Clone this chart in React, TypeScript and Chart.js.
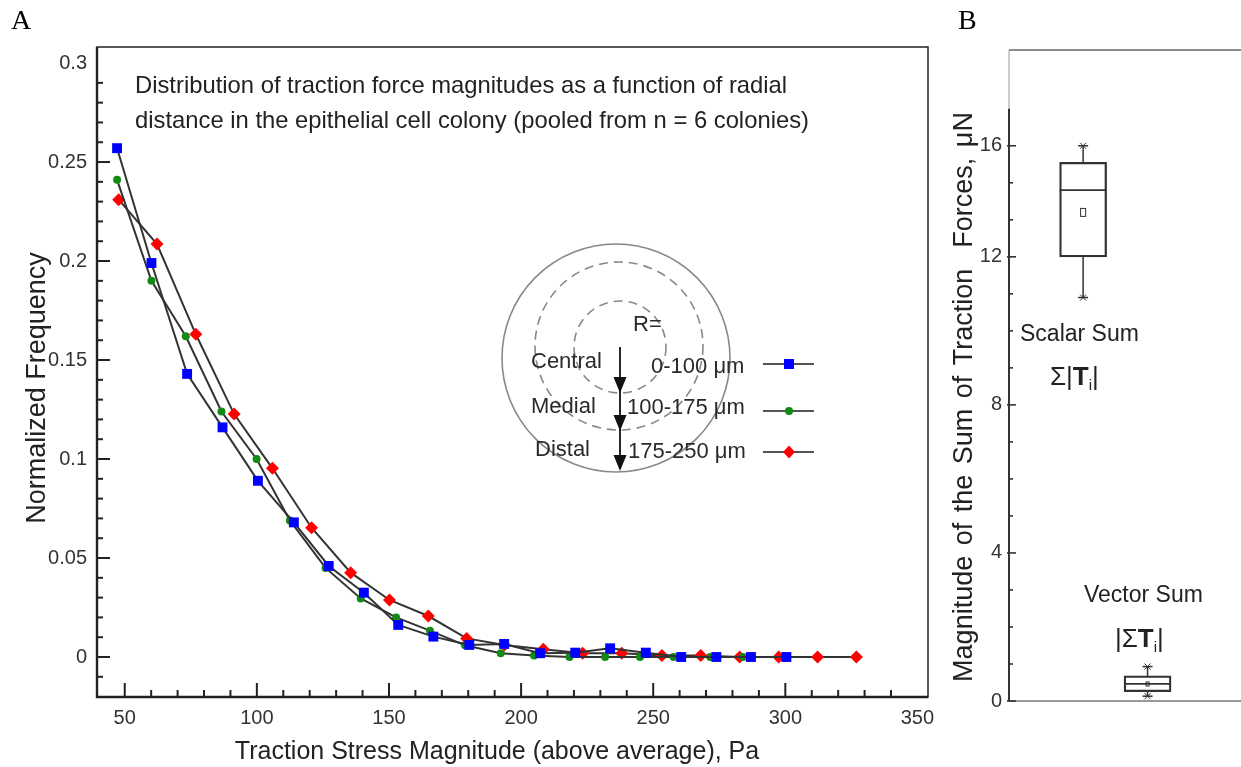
import React, { useEffect, useRef } from 'react';
import { Chart, LinearScale, registerables } from 'chart.js';

Chart.register(...registerables);

// ---------- Panel A data ----------
const centralX = [47.1, 60.1, 73.6, 87, 100.4, 114, 127.2, 140.5, 153.5, 166.8, 180.4, 193.6, 207.2, 220.5, 233.7, 247.2, 260.6, 273.9, 287, 300.4];
const centralY = [0.257, 0.199, 0.143, 0.116, 0.089, 0.068, 0.046, 0.0325, 0.0162, 0.0103, 0.0061, 0.0066, 0.0019, 0.0022, 0.0044, 0.0022, 0, 0, 0, 0];
const medialX = [47.1, 60.1, 73.1, 86.6, 99.9, 112.5, 126, 139.3, 152.7, 165.5, 178.8, 192.3, 204.9, 218.3, 231.8, 245, 257.7, 271.6, 284];
const medialY = [0.241, 0.190, 0.162, 0.124, 0.100, 0.069, 0.045, 0.0296, 0.020, 0.0133, 0.0059, 0.0019, 0.0007, 0, 0, 0, 0, 0, 0];
const distalX = [47.7, 62.2, 76.9, 91.4, 105.9, 120.7, 135.5, 150.2, 164.9, 179.4, 193.7, 208.4, 223.3, 238.1, 253.3, 268, 282.7, 297.5, 312.2, 326.9];
const distalY = [0.231, 0.2086, 0.163, 0.1227, 0.0953, 0.0653, 0.0426, 0.0288, 0.0207, 0.0094, 0.0061, 0.0039, 0.0019, 0.0019, 0.0007, 0.0007, 0, 0, 0, 0];

const zoneNames = ['Central', 'Medial', 'Distal'];
const rangeNames = ['0-100 μm', '100-175 μm', '175-250 μm'];
const seriesColors = ['#0000ff', '#138a13', '#ff0000'];
const seriesStyles = ['rect', 'circle', 'rectRot'];

const xTicksA = [50, 100, 150, 200, 250, 300, 350];
const xTickLabelsA = ['50', '100', '150', '200', '250', '300', '350'];
const yTicksA = [0, 0.05, 0.1, 0.15, 0.2, 0.25, 0.3];
const yTickLabelsA = ['0', '0.05', '0.1', '0.15', '0.2', '0.25', '0.3'];
const noteLines = [
  'Distribution of traction force magnitudes as a function of radial',
  'distance in the epithelial cell colony (pooled from n = 6 colonies)',
];
const xTitleA = 'Traction Stress Magnitude (above average), Pa';
const yTitleA = 'Normalized Frequency';

// ---------- Panel B data ----------
const boxNames = ['Scalar Sum', 'Vector Sum'];
const boxMin = [10.9, 0.13];
const boxQ1 = [12.0, 0.25];
const boxMedian = [14.4, 0.46];
const boxQ3 = [15.4, 0.68];
const boxMax = [16.0, 0.93];
const boxMean = [13.6, 0.46];
const yTicksB = [0, 1, 2, 3, 4, 5, 6, 7, 8, 9, 10, 11, 12, 13.333, 14.667, 16, 17.333];
const yTickLabelsB = ['0', '', '', '', '4', '', '', '', '8', '', '', '', '12', '', '', '16', ''];
const yTitleB = 'Magnitude of the Sum of Traction  Forces, μN';

// The reference y axis of panel B is compressed above 12
const BREAK_VALUE = 12;
const UPPER_RATIO = 0.75;
const toVirtual = (v: number) => (v <= BREAK_VALUE ? v : BREAK_VALUE + (v - BREAK_VALUE) * UPPER_RATIO);
const fromVirtual = (v: number) => (v <= BREAK_VALUE ? v : BREAK_VALUE + (v - BREAK_VALUE) / UPPER_RATIO);

class SegmentedScale extends LinearScale {
  static id = 'segmented';
  static defaults = LinearScale.defaults;
  getPixelForValue(value: number) {
    return super.getPixelForValue(toVirtual(value));
  }
  getValueForPixel(pixel: number) {
    return fromVirtual(super.getValueForPixel(pixel) as number);
  }
}
Chart.register(SegmentedScale);

const SANS = '"Liberation Sans", Arial, sans-serif';
const SERIF = '"Liberation Serif", "Times New Roman", serif';

function drawMarker(ctx: CanvasRenderingContext2D, style: string, x: number, y: number, color: string) {
  ctx.save();
  ctx.fillStyle = color;
  ctx.beginPath();
  if (style === 'rect') {
    ctx.rect(x - 5, y - 5, 10, 10);
  } else if (style === 'circle') {
    ctx.arc(x, y, 4, 0, Math.PI * 2);
  } else {
    ctx.moveTo(x, y - 6.5);
    ctx.lineTo(x + 6, y);
    ctx.lineTo(x, y + 6.5);
    ctx.lineTo(x - 6, y);
    ctx.closePath();
  }
  ctx.fill();
  ctx.restore();
}

function line(ctx: CanvasRenderingContext2D, x1: number, y1: number, x2: number, y2: number) {
  ctx.beginPath();
  ctx.moveTo(x1, y1);
  ctx.lineTo(x2, y2);
  ctx.stroke();
}

const panelAPlugin = {
  id: 'panelA',
  afterDraw(chart: any) {
    const { ctx, chartArea: a } = chart;
    const x = chart.scales.x;
    const y = chart.scales.y;
    ctx.save();
    // frame
    ctx.strokeStyle = '#222';
    ctx.lineWidth = 1.5;
    ctx.strokeRect(a.left, a.top, a.right - a.left, a.bottom - a.top);
    ctx.lineWidth = 2.4;
    ctx.beginPath();
    ctx.moveTo(a.left, a.top);
    ctx.lineTo(a.left, a.bottom);
    ctx.lineTo(a.right, a.bottom);
    ctx.stroke();
    // inward ticks
    ctx.lineWidth = 2;
    for (let v = 50; v <= 340; v += 10) {
      const px = x.getPixelForValue(v);
      line(ctx, px, a.bottom, px, a.bottom - (v % 50 === 0 ? 14 : 7));
    }
    for (let i = -1; i <= 29; i++) {
      const py = y.getPixelForValue(i / 100);
      line(ctx, a.left, py, a.left + (i % 5 === 0 ? 13 : 6), py);
    }
    // note text
    ctx.fillStyle = '#222';
    ctx.textBaseline = 'middle';
    ctx.textAlign = 'left';
    ctx.font = `23.8px ${SANS}`;
    ctx.fillText(noteLines[0], 135, 86);
    ctx.fillText(noteLines[1], 135, 121);

    // legend diagram: concentric zones
    ctx.strokeStyle = '#888';
    ctx.lineWidth = 1.6;
    ctx.beginPath();
    ctx.arc(616, 358, 114, 0, Math.PI * 2);
    ctx.stroke();
    ctx.setLineDash([9, 6]);
    ctx.beginPath();
    ctx.arc(619, 346, 84, 0, Math.PI * 2);
    ctx.stroke();
    ctx.beginPath();
    ctx.arc(620, 347, 46, 0, Math.PI * 2);
    ctx.stroke();
    ctx.setLineDash([]);
    // arrows
    ctx.strokeStyle = '#111';
    ctx.fillStyle = '#111';
    ctx.lineWidth = 1.8;
    line(ctx, 620, 347, 620, 468);
    [393, 431, 471].forEach((tip) => {
      ctx.beginPath();
      ctx.moveTo(613.5, tip - 16);
      ctx.lineTo(626.5, tip - 16);
      ctx.lineTo(620, tip);
      ctx.closePath();
      ctx.fill();
    });
    // legend texts
    ctx.fillStyle = '#2a2a2a';
    ctx.font = `22px ${SANS}`;
    ctx.fillText('R=', 633, 325);
    const zoneX = [531, 531, 535];
    const zoneY = [362, 407, 450];
    const rangeX = [651, 627, 628];
    const rangeY = [367, 408, 452];
    const sampleY = [364, 411, 452];
    for (let i = 0; i < 3; i++) {
      ctx.fillText(zoneNames[i], zoneX[i], zoneY[i]);
      ctx.fillText(rangeNames[i], rangeX[i], rangeY[i]);
      ctx.strokeStyle = '#555';
      ctx.lineWidth = 2;
      line(ctx, 763, sampleY[i], 814, sampleY[i]);
      drawMarker(ctx, seriesStyles[i], 789, sampleY[i], seriesColors[i]);
    }
    // axis titles
    ctx.fillStyle = '#222';
    ctx.font = `25px ${SANS}`;
    ctx.textAlign = 'center';
    ctx.fillText(xTitleA, 497, 752);
    ctx.save();
    ctx.translate(38, 388);
    ctx.rotate(-Math.PI / 2);
    ctx.font = `27px ${SANS}`;
    ctx.fillText(yTitleA, 0, 0);
    ctx.restore();
    // panel label
    ctx.fillStyle = '#000';
    ctx.textAlign = 'left';
    ctx.font = `28px ${SERIF}`;
    ctx.fillText('A', 11, 22);
    ctx.restore();
  },
};

function drawRich(ctx: CanvasRenderingContext2D, parts: { t: string; font: string; dy: number }[], x: number, y: number) {
  let cx = x;
  for (const p of parts) {
    ctx.font = p.font;
    ctx.fillText(p.t, cx, y + p.dy);
    cx += ctx.measureText(p.t).width;
  }
}

const panelBPlugin = {
  id: 'panelB',
  afterDraw(chart: any) {
    const { ctx, chartArea: a } = chart;
    const x = chart.scales.x;
    const y = chart.scales.y;
    const W = chart.width;
    ctx.save();
    // frame
    ctx.strokeStyle = '#666';
    ctx.lineWidth = 1.6;
    line(ctx, a.left, a.top, W, a.top);
    ctx.strokeStyle = '#999';
    ctx.lineWidth = 2;
    line(ctx, a.left, a.bottom, W, a.bottom);
    ctx.strokeStyle = '#999';
    ctx.lineWidth = 1;
    const axisTop = y.getPixelForValue(yTicksB[yTicksB.length - 1]);
    line(ctx, a.left, a.top, a.left, axisTop);
    ctx.strokeStyle = '#333';
    ctx.lineWidth = 2;
    line(ctx, a.left, axisTop, a.left, a.bottom);
    // ticks
    ctx.lineWidth = 1.6;
    yTicksB.forEach((v, i) => {
      if (i === yTicksB.length - 1) return;
      const py = y.getPixelForValue(v);
      if (yTickLabelsB[i]) line(ctx, a.left - 2, py, a.left + 7, py);
      else line(ctx, a.left, py, a.left + 4, py);
    });
    // box whiskers, medians, means
    ctx.strokeStyle = '#333';
    for (let i = 0; i < boxNames.length; i++) {
      const cx = x.getPixelForValue(i + 1);
      const half = 23.5;
      ctx.lineWidth = 1.5;
      line(ctx, cx, y.getPixelForValue(boxQ3[i]), cx, y.getPixelForValue(boxMax[i]));
      line(ctx, cx, y.getPixelForValue(boxQ1[i]), cx, y.getPixelForValue(boxMin[i]));
      [boxMax[i], boxMin[i]].forEach((v) => {
        const py = y.getPixelForValue(v);
        line(ctx, cx - 5, py, cx + 5, py);
        ctx.lineWidth = 1;
        line(ctx, cx - 3, py - 3, cx + 3, py + 3);
        line(ctx, cx - 3, py + 3, cx + 3, py - 3);
        ctx.lineWidth = 1.5;
      });
      ctx.lineWidth = 1.8;
      const pm = y.getPixelForValue(boxMedian[i]);
      line(ctx, cx - half, pm, cx + half, pm);
      ctx.lineWidth = 1;
      const pmean = y.getPixelForValue(boxMean[i]);
      if (i === 0) ctx.strokeRect(cx - 2.5, pmean - 4, 5, 8);
      else ctx.strokeRect(cx - 1.5, pmean - 2, 3, 4);
    }
    // labels
    ctx.fillStyle = '#222';
    ctx.textBaseline = 'middle';
    ctx.textAlign = 'left';
    ctx.font = `23px ${SANS}`;
    ctx.fillText(boxNames[0], 85, 335);
    ctx.fillText(boxNames[1], 149, 596);
    const normal = `26px ${SANS}`;
    const bold = `bold 26px ${SANS}`;
    const sub = `15px ${SANS}`;
    drawRich(ctx, [
      { t: 'Σ|', font: normal, dy: 0 },
      { t: 'T', font: bold, dy: 0 },
      { t: 'i', font: sub, dy: 8 },
      { t: '|', font: normal, dy: 0 },
    ], 115, 378);
    drawRich(ctx, [
      { t: '|Σ', font: normal, dy: 0 },
      { t: 'T', font: bold, dy: 0 },
      { t: 'i', font: sub, dy: 8 },
      { t: '|', font: normal, dy: 0 },
    ], 180, 640);
    // axis title
    ctx.save();
    ctx.translate(30, 397);
    ctx.rotate(-Math.PI / 2);
    ctx.textAlign = 'center';
    ctx.font = `27px ${SANS}`;
    (ctx as any).wordSpacing = '3px';
    ctx.fillText(yTitleB, 0, 0);
    ctx.restore();
    // panel label
    ctx.fillStyle = '#000';
    ctx.font = `28px ${SERIF}`;
    ctx.fillText('B', 23, 22);
    ctx.restore();
  },
};

export default function App() {
  const refA = useRef<HTMLCanvasElement>(null);
  const refB = useRef<HTMLCanvasElement>(null);

  useEffect(() => {
    const mk = (xs: number[], ys: number[], i: number) => ({
      label: `${zoneNames[i]} ${rangeNames[i]}`,
      data: xs.map((v, k) => ({ x: v, y: ys[k] })),
      borderColor: '#333',
      borderWidth: 2,
      pointStyle: seriesStyles[i],
      pointRadius: i === 0 ? 7 : i === 1 ? 4 : 6.5,
      pointBackgroundColor: seriesColors[i],
      pointBorderColor: seriesColors[i],
      pointBorderWidth: 0,
      tension: 0,
      fill: false,
    });
    const chartA = new Chart(refA.current as HTMLCanvasElement, {
      type: 'line',
      data: {
        datasets: [mk(centralX, centralY, 0), mk(medialX, medialY, 1), mk(distalX, distalY, 2)],
      },
      options: {
        animation: false,
        responsive: false,
        layout: { padding: { left: 0, right: 32, top: 47, bottom: 0 } },
        plugins: { legend: { display: false }, tooltip: { enabled: false } },
        scales: {
          x: {
            type: 'linear',
            min: 39.5,
            max: 354,
            afterFit: (s: any) => { s.height = 70; },
            afterBuildTicks: (s: any) => { s.ticks = xTicksA.map((v) => ({ value: v })); },
            grid: { display: false, drawTicks: false },
            border: { display: false },
            ticks: {
              padding: 9,
              color: '#333',
              font: { family: SANS, size: 20 },
              maxRotation: 0,
              autoSkip: false,
              callback: (_v: any, i: number) => xTickLabelsA[i],
            },
          },
          y: {
            type: 'linear',
            min: -0.0202,
            max: 0.3081,
            afterFit: (s: any) => { s.width = 97; },
            afterBuildTicks: (s: any) => { s.ticks = yTicksA.map((v) => ({ value: v })); },
            grid: { display: false, drawTicks: false },
            border: { display: false },
            ticks: {
              padding: 10,
              color: '#333',
              font: { family: SANS, size: 20 },
              autoSkip: false,
              callback: (_v: any, i: number) => yTickLabelsA[i],
            },
          },
        },
      },
      plugins: [panelAPlugin],
    } as any);

    const chartB = new Chart(refB.current as HTMLCanvasElement, {
      type: 'bar',
      data: {
        datasets: [
          {
            label: 'box',
            data: boxNames.map((_n, i) => ({ x: i + 1, y: [boxQ1[i], boxQ3[i]] })),
            backgroundColor: 'rgba(255,255,255,0)',
            borderColor: '#333',
            borderWidth: 1.6,
            borderSkipped: false,
            barThickness: 47,
          },
        ],
      },
      options: {
        animation: false,
        responsive: false,
        layout: { padding: { left: 0, right: 0, top: 50, bottom: 66 } },
        plugins: { legend: { display: false }, tooltip: { enabled: false } },
        scales: {
          x: { type: 'linear', min: 0.3, max: 3.0, display: false },
          y: {
            type: 'segmented',
            min: 0,
            max: toVirtual(19.45),
            afterFit: (s: any) => { s.width = 74; },
            afterBuildTicks: (s: any) => { s.ticks = yTicksB.map((v) => ({ value: v })); },
            grid: { display: false, drawTicks: false },
            border: { display: false },
            ticks: {
              padding: 7,
              color: '#333',
              font: { family: SANS, size: 20 },
              autoSkip: false,
              callback: (_v: any, i: number) => yTickLabelsB[i],
            },
          },
        },
      },
      plugins: [panelBPlugin],
    } as any);

    return () => {
      chartA.destroy();
      chartB.destroy();
    };
  }, []);

  return (
    <div style={{ position: 'fixed', left: 0, top: 0, width: 1241, height: 767, background: '#fff', overflow: 'hidden' }}>
      <canvas ref={refA} width={960} height={767} style={{ position: 'absolute', left: 0, top: 0 }} />
      <canvas ref={refB} width={306} height={767} style={{ position: 'absolute', left: 935, top: 0 }} />
    </div>
  );
}
